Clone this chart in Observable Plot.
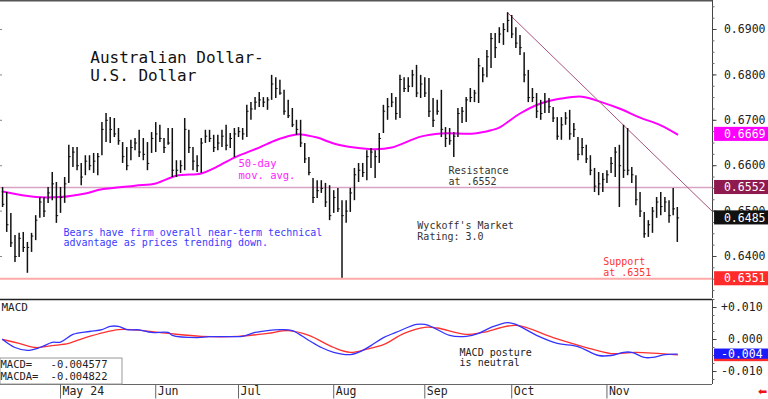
<!DOCTYPE html>
<html><head><meta charset="utf-8">
<script src="https://cdn.jsdelivr.net/npm/d3@7"></script>
<script src="https://cdn.jsdelivr.net/npm/@observablehq/plot@0.6"></script>
<style>
body{margin:0;background:#fff;}
#chart svg{display:block;}
</style></head><body><div id="chart"></div>
<script>
// ---- Daily AUD/USD bars (trading-day index 0 = mid-April 2024) ----
const highs = [
.6552,.6541,.6495,.6446,.6451,.6453,.6431,.6451,.6490,.6530,
.6530,.6552,.6585,.6563,.6552,.6574,.6645,.6640,.6640,.6605,
.6622,.6622,.6627,.6627,.6695,.6715,.6706,.6704,.6682,.6651,
.6640,.6656,.6660,.6678,.6660,.6651,.6673,.6695,.6689,.6660,
.6682,.6682,.6611,.6611,.6704,.6678,.6640,.6622,.6660,.6678,
.6678,.6667,.6667,.6678,.6689,.6671,.6682,.6684,.6682,.6733,
.6739,.6750,.6761,.6750,.6750,.6799,.6794,.6788,.6766,.6744,
.6726,.6700,.6700,.6649,.6618,.6572,.6567,.6567,.6561,.6556,
.6545,.6550,.6523,.6523,.6550,.6594,.6605,.6605,.6633,.6638,
.6633,.6671,.6733,.6748,.6759,.6750,.6799,.6794,.6794,.6810,
.6821,.6799,.6794,.6792,.6748,.6744,.6766,.6684,.6682,.6673,
.6726,.6728,.6750,.6770,.6766,.6836,.6816,.6854,.6891,.6891,
.6904,.6913,.6937,.6931,.6904,.6887,.6849,.6810,.6770,.6759,
.6744,.6759,.6748,.6728,.6706,.6706,.6717,.6722,.6693,.6662,
.6660,.6645,.6622,.6594,.6585,.6583,.6589,.6618,.6640,.6645,
.6689,.6682,.6596,.6578,.6541,.6497,.6479,.6508,.6530,.6541,
.6530,.6523,.6550,.6508];
const lows = [
.6508,.6453,.6420,.6387,.6398,.6409,.6363,.6409,.6435,.6484,
.6486,.6517,.6523,.6473,.6495,.6517,.6561,.6596,.6589,.6556,
.6578,.6589,.6583,.6578,.6622,.6651,.6649,.6662,.6645,.6605,
.6589,.6611,.6633,.6618,.6611,.6589,.6627,.6629,.6651,.6627,
.6645,.6574,.6574,.6583,.6589,.6627,.6589,.6585,.6583,.6649,
.6651,.6629,.6633,.6640,.6633,.6638,.6618,.6662,.6656,.6662,
.6700,.6722,.6728,.6728,.6722,.6744,.6748,.6755,.6711,.6704,
.6684,.6667,.6640,.6605,.6578,.6517,.6528,.6539,.6508,.6479,
.6495,.6497,.6352,.6473,.6497,.6523,.6563,.6574,.6567,.6594,
.6572,.6605,.6671,.6700,.6728,.6700,.6704,.6761,.6761,.6772,
.6750,.6748,.6750,.6706,.6684,.6711,.6662,.6640,.6645,.6618,
.6662,.6693,.6695,.6739,.6739,.6737,.6783,.6794,.6814,.6836,
.6869,.6865,.6893,.6880,.6858,.6843,.6783,.6739,.6739,.6704,
.6700,.6715,.6715,.6695,.6656,.6656,.6689,.6656,.6662,.6611,
.6622,.6605,.6578,.6541,.6534,.6541,.6561,.6583,.6574,.6508,
.6572,.6578,.6561,.6512,.6486,.6440,.6442,.6451,.6484,.6490,
.6497,.6473,.6490,.6431];
const closes = [
.6515,.6470,.6430,.6400,.6440,.6420,.6420,.6445,.6480,.6520,
.6500,.6540,.6560,.6490,.6530,.6560,.6620,.6630,.6600,.6575,
.6610,.6600,.6610,.6620,.6680,.6700,.6680,.6670,.6655,.6620,
.6600,.6640,.6650,.6630,.6625,.6605,.6660,.6670,.6660,.6640,
.6650,.6590,.6590,.6600,.6680,.6640,.6610,.6600,.6650,.6665,
.6660,.6640,.6650,.6665,.6645,.6660,.6670,.6675,.6670,.6720,
.6725,.6740,.6745,.6740,.6745,.6780,.6770,.6760,.6720,.6710,
.6690,.6680,.6650,.6615,.6585,.6530,.6545,.6550,.6520,.6490,
.6530,.6505,.6490,.6500,.6540,.6580,.6590,.6585,.6620,.6630,
.6620,.6660,.6720,.6730,.6740,.6715,.6790,.6770,.6775,.6800,
.6760,.6780,.6760,.6720,.6700,.6720,.6680,.6660,.6655,.6665,
.6715,.6720,.6745,.6750,.6760,.6820,.6800,.6840,.6880,.6860,
.6890,.6900,.6920,.6890,.6870,.6860,.6800,.6750,.6750,.6720,
.6715,.6740,.6730,.6705,.6665,.6690,.6705,.6670,.6680,.6625,
.6640,.6615,.6590,.6555,.6560,.6570,.6580,.6605,.6630,.6600,
.6590,.6590,.6580,.6525,.6500,.6450,.6470,.6500,.6520,.6510,
.6520,.6490,.6505,.6485];

// ---- 50-day moving average (bar index, value) ----
const maIdx = [0,8,14,20,24,32,37,42,48,51,56,62,66,70,72,76,80,85,90,94,101,106,114,118,120,125,130,135,140,145,149,154,159,163];
const maVal = [.6543,.6531,.6531,.6539,.6548,.6556,.6561,.6578,.6583,.6594,.6618,.6640,.6656,.6667,.6669,.6662,.6649,.6640,.6636,.6640,.6664,.6671,.6671,.6678,.6684,.6715,.6737,.6748,.6752,.6739,.6726,.6706,.6689,.6669];

// ---- Downtrend line ----
const trendIdx = [122, 171.5];
const trendVal = [0.6937, 0.6499];

// ---- MACD (blue) and signal/MACDA (red) ----
const macdIdx = [0,3,6,9,12,14,17,21,24,26,28,30,33,36,40,41,47,50,56,58,61,64,67,70,74,77,80,84,87,89,92,95,100,102,104,108,112,115,118,122,124,129,134,139,144,147,150,152,155,157,160,163];
const macdVal = [0,-.0025,-.0034,-.0025,-.0009,-.0008,.0016,.0025,.0031,.0041,.0041,.0031,.0030,.0022,.0022,.0013,.0006,.0009,.0009,.0010,.0022,.0028,.0031,.0028,-.0003,-.0025,-.0040,-.0047,-.0034,-.0019,.0006,.0022,.0047,.0047,.0038,.0013,.0010,.0019,.0038,.0053,.0047,.0013,-.0012,-.0022,-.0050,-.0050,-.0040,-.0040,-.0056,-.0056,-.0047,-.004577];
const sigIdx = [0,4,8,12,16,20,28,32,40,48,57,64,69,74,80,84,88,92,97,102,105,112,116,124,133,141,147,153,163];
const sigVal = [0,-.0012,-.0025,-.0019,-.0012,.0006,.0031,.0030,.0019,.0010,.0010,.0019,.0028,.0013,-.0025,-.0040,-.0030,-.0016,.0019,.0038,.0036,.0016,.0022,.0044,.0006,-.0025,-.0044,-.0040,-.004822];

// ---- Axis labels / levels ----
const monthLabels = ["May 24","Jun","Jul","Aug","Sep","Oct","Nov"];
const monthIdx = [14,37,57,80,102,123,146];
const priceTicks = [0.64,0.65,0.66,0.67,0.68,0.69];
const macdTicks = [0.01,0,-0.01];
const resistance = 0.6552, support = 0.6351, maLast = 0.6669, lastClose = 0.6485;
const macdLast = -0.004577, macdaLast = -0.004822;

// ---- build ----
const FONT = "DejaVu Sans Mono";
const bars = highs.map((h,i)=>({i, h, l:lows[i], c:closes[i]}));
const ma = maIdx.map((x,k)=>({x, y:maVal[k]}));
const trend = trendIdx.map((x,k)=>({x, y:trendVal[k]}));
const macd = macdIdx.map((x,k)=>({x, y:macdVal[k]}));
const sig = sigIdx.map((x,k)=>({x, y:sigVal[k]}));
const XD = [-0.5, 171.5];
const AX = 171.5;           // right axis position (index units)
const BOX1 = 172.0, BOX2 = 185.5, LBL = 184.3;

const levelBoxes = [
  {v:maLast, fill:"#ff00ff"},
  {v:resistance, fill:"#8e1a4f"},
  {v:lastClose, fill:"#111111"},
  {v:support, fill:"#ff2a2a"}
];
const minor = d3.range(0.6325, 0.6965, 0.0025);
const trunc3 = d => (Math.trunc(d*1000)/1000).toFixed(3);

const price = Plot.plot({
  width:768, height:298, marginLeft:0, marginRight:56, marginTop:0, marginBottom:0,
  x:{domain:XD, axis:null},
  y:{domain:[0.63075,0.69639], axis:null},
  style:{fontFamily:FONT, background:"#fff"},
  marks:[
    Plot.ruleY([0.69639], {x1:XD[0], x2:AX, stroke:"#555", strokeWidth:2}),
    Plot.ruleY([resistance], {x1:XD[0], x2:AX, stroke:"#d9a3c3", strokeWidth:1.5}),
    Plot.ruleY([support], {x1:XD[0], x2:AX, stroke:"#ffaaaa", strokeWidth:2}),
    Plot.line(ma, {x:"x", y:"y", stroke:"#ff00ff", strokeWidth:2, curve:"catmull-rom"}),
    Plot.line(trend, {x:"x", y:"y", stroke:"#a8527c", strokeWidth:1}),
    Plot.ruleX(bars, {x:"i", y1:"l", y2:"h", stroke:"#111", strokeWidth:1.5}),
    Plot.ruleY(bars, {x1:"i", x2:d=>d.i+0.55, y:"c", stroke:"#111", strokeWidth:1}),
    Plot.ruleX([AX], {stroke:"#444", strokeWidth:1}),
    Plot.ruleY(minor, {x1:AX, x2:AX+0.6, stroke:"#666"}),
    Plot.ruleY(priceTicks, {x1:AX, x2:AX+1.1, stroke:"#444"}),
    Plot.ruleY(priceTicks, {x1:XD[0], x2:XD[0]+0.5, stroke:"#888"}),
    Plot.text(priceTicks, {x:LBL, y:d=>d, text:d=>d.toFixed(4), textAnchor:"end", fontSize:11.5, fill:"#222", fontFamily:FONT}),
    Plot.rect(levelBoxes, {x1:BOX1, x2:BOX2, y1:d=>d.v-0.00155, y2:d=>d.v+0.00155, fill:"fill"}),
    Plot.text(levelBoxes, {x:LBL, y:"v", text:d=>d.v.toFixed(4), textAnchor:"end", fontSize:11.5, fill:"#fff", fontFamily:FONT}),
    Plot.text(["Australian Dollar-\nU.S. Dollar"], {x:21.2, y:0.68537, lineAnchor:"top", textAnchor:"start", fontSize:16, lineHeight:1.1, fill:"#111", fontFamily:FONT}),
    Plot.text(["50-day\nmov. avg."], {x:57.0, y:0.66137, lineAnchor:"top", textAnchor:"start", fontSize:10.5, lineHeight:1.07, fill:"#ff22ff", fontFamily:FONT}),
    Plot.text(["Resistance\nat .6552"], {x:107.7, y:0.65982, lineAnchor:"top", textAnchor:"start", fontSize:10, lineHeight:1.07, fill:"#333", fontFamily:FONT}),
    Plot.text(["Wyckoff's Market\nRating: 3.0"], {x:100.2, y:0.64771, lineAnchor:"top", textAnchor:"start", fontSize:10, lineHeight:1.07, fill:"#333", fontFamily:FONT}),
    Plot.text(["Bears have firm overall near-term technical\nadvantage as prices trending down."], {x:14.7, y:0.64623, lineAnchor:"top", textAnchor:"start", fontSize:10, lineHeight:1.05, fill:"#3b3bff", fontFamily:FONT}),
    Plot.text(["Support\nat .6351"], {x:145.1, y:0.63971, lineAnchor:"top", textAnchor:"start", fontSize:10, lineHeight:1.05, fill:"#ff3333", fontFamily:FONT})
  ]
});

const MTOP = 0.0125, MBOT = -0.01406;
const mminor = d3.range(-0.0125, 0.0126, 0.0025);
const macdPlot = Plot.plot({
  width:768, height:101, marginLeft:0, marginRight:56, marginTop:1, marginBottom:15,
  x:{domain:XD, axis:null},
  y:{domain:[MBOT, MTOP], axis:null},
  style:{fontFamily:FONT, background:"#fff"},
  marks:[
    Plot.ruleY([MTOP], {x1:XD[0], x2:AX, stroke:"#222", strokeWidth:1.5}),
    Plot.ruleY([MBOT], {x1:XD[0], x2:AX, stroke:"#666", strokeWidth:1}),
    Plot.ruleX([AX], {y1:MBOT, y2:MTOP, stroke:"#444"}),
    Plot.ruleY(mminor, {x1:AX, x2:AX+0.6, stroke:"#666"}),
    Plot.ruleY(macdTicks, {x1:AX, x2:AX+1.1, stroke:"#444"}),
    Plot.line(sig, {x:"x", y:"y", stroke:"#ff3030", strokeWidth:1.3, curve:"catmull-rom"}),
    Plot.line(macd, {x:"x", y:"y", stroke:"#3333ff", strokeWidth:1.3, curve:"catmull-rom"}),
    Plot.text(["MACD"], {x:XD[0], y:0.0112, lineAnchor:"top", textAnchor:"start", dx:1, fontSize:11, fill:"#222", fontFamily:FONT}),
    Plot.text(["MACD posture\nis neutral"], {x:110.4, y:-0.0029, lineAnchor:"top", textAnchor:"start", fontSize:10, lineHeight:1.0, fill:"#222", fontFamily:FONT}),
    Plot.rect([0], {x1:XD[0], x2:28.97, y1:MBOT, y2:-0.00594, fill:"#fff", stroke:"#999"}),
    Plot.text(["MACD=", "MACDA="], {x:XD[0], y:[-0.0067, -0.0104], lineAnchor:"top", textAnchor:"start", fontSize:10.5, fill:"#222", fontFamily:FONT}),
    Plot.text([macdLast, macdaLast], {x:11.6, y:[-0.0067, -0.0104], text:d=>d.toFixed(6), lineAnchor:"top", textAnchor:"start", fontSize:10.5, fill:"#222", fontFamily:FONT}),
    Plot.text(macdTicks, {x:183.6, y:d=>d, text:d=>(d>0?"+":"") + d.toFixed(3), textAnchor:"end", fontSize:11.5, fill:"#222", fontFamily:FONT}),
    Plot.rect([macdaLast], {x1:BOX1, x2:BOX2, y1:d=>d-0.0021, y2:d=>d+0.0016, fill:"#ff2a2a"}),
    Plot.rect([macdLast], {x1:BOX1, x2:BOX2, y1:d=>d-0.0016, y2:d=>d+0.0016, fill:"#1a1aff"}),
    Plot.text([macdLast], {x:183.6, y:d=>d, text:trunc3, textAnchor:"end", fontSize:11.5, fill:"#fff", fontFamily:FONT}),
    Plot.ruleX(monthIdx, {y1:MBOT, y2:-0.0186, stroke:"#666"}),
    Plot.text(monthLabels, {x:monthIdx, y:MBOT, dy:2.5, dx:2, lineAnchor:"top", textAnchor:"start", fontSize:11.5, fill:"#222", fontFamily:FONT}),
    Plot.text(["⬅"], {x:183.6, y:MBOT, dy:3, lineAnchor:"top", textAnchor:"middle", fontSize:11, fill:"#ee1111", fontFamily:"DejaVu Sans"})
  ]
});

const root = document.getElementById("chart");
root.appendChild(price);
root.appendChild(macdPlot);
</script>
</body></html>
